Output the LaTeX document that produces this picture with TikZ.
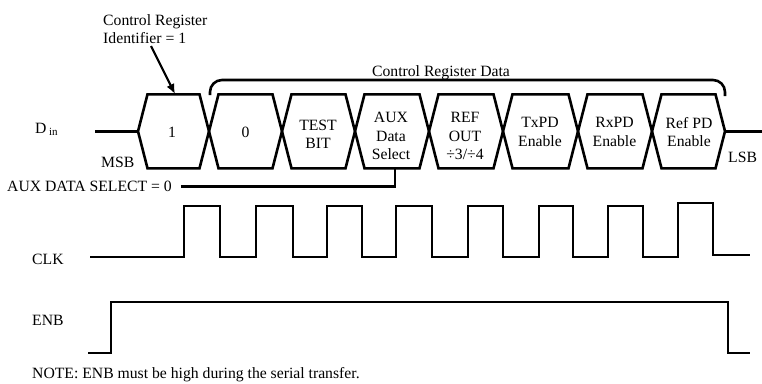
\documentclass[tikz,border=0pt]{standalone}
\usepackage{fontspec}
\setmainfont{Liberation Serif}
\usetikzlibrary{arrows.meta}
\tikzstyle{every node}=[font=\fontsize{15.7}{18.3}\selectfont,inner sep=0pt]
\tikzstyle{signal}=[line width=2.6pt]
\tikzstyle{bitlabel}=[align=center]
\tikzstyle{sidelabel}=[anchor=base west]

\begin{document}
\begin{tikzpicture}[x=1pt,y=-1pt,>={Latex[length=10pt,width=8.5pt]}]
\useasboundingbox (0,0) rectangle (762,383);
% serial data word
\foreach \a/\b in {138/209,209/282,282/355,355/429,429/503,503/578,578/652,652/725}
  \draw[signal] (\a,131.3) -- (\a+9.5,94.3) -- (\b-9.5,94.3) -- (\b,131.3)
                -- (\b-9.5,168.3) -- (\a+9.5,168.3) -- cycle;
\node (Din)   [sidelabel] at (35,133) {D\,\textsubscript{in}};
\node (MSB)   [sidelabel] at (101,167) {MSB};
\node (LSB)   [sidelabel] at (728,162) {LSB};
\coordinate (Din_in)  at (95,131.3);
\coordinate (Din_msb) at (138,131.3);
\coordinate (Din_lsb) at (725,131.3);
\coordinate (Din_out) at (762,131.3);
\draw[signal] (Din_in) -- (Din_msb);
\draw[signal] (Din_lsb) -- (Din_out);
\node (bit1)  [bitlabel] at (172,132.7) {1};
\node (bit0)  [bitlabel] at (245.5,132.7) {0};
\node (test)  [bitlabel] at (318,134) {TEST\\BIT};
\node (aux)   [bitlabel] at (391,136) {AUX\\Data\\Select};
\node (ref)   [bitlabel] at (465,136) {REF\\OUT\\÷3/÷4};
\node (txpd)  [bitlabel] at (540,132) {TxPD\\Enable};
\node (rxpd)  [bitlabel] at (614.5,132) {RxPD\\Enable};
\node (refpd) [bitlabel] at (689,132) {Ref PD\\Enable};
% brace over the data bits
\node (crdata) [anchor=base] at (441,76.5) {Control Register Data};
\draw[signal,rounded corners=12pt] (210,95) |- (725,80) -- (725,96);
% identifier callout
\node (ctrlid) [anchor=north west,align=left] at (103,14) {Control Register\\Identifier = 1};
\coordinate (id_tail) at (151,46);
\coordinate (id_head) at (175,94);
\draw[->,line width=2.2pt] (id_tail) -- (id_head);
% aux data select
\node (auxsel) [sidelabel] at (7,191.5) {AUX DATA SELECT = 0};
\coordinate (aux_bit) at (395,168.3);
\draw[signal] ([xshift=9pt]auxsel.east) -| (aux_bit);
% clock
\node (CLK) [sidelabel] at (32,264) {CLK};
\draw[signal] (90,257) -| (184,206) -| (220,257) -| (256,206) -| (293,257)
  -| (327,206) -| (362,257) -| (396,206) -| (432,257) -| (468,206) -| (503,257)
  -| (539,206) -| (573,257) -| (608,206) -| (643,257) -| (678,203) -| (713,255)
  -- (750,255);
% enable
\node (ENB) [sidelabel] at (32,325) {ENB};
\draw[signal] (88,353) -| (111,302) -| (728,353) -- (750,353);
\node (note) [sidelabel] at (32,378) {NOTE: ENB must be high during the serial transfer.};
\end{tikzpicture}
\end{document}
